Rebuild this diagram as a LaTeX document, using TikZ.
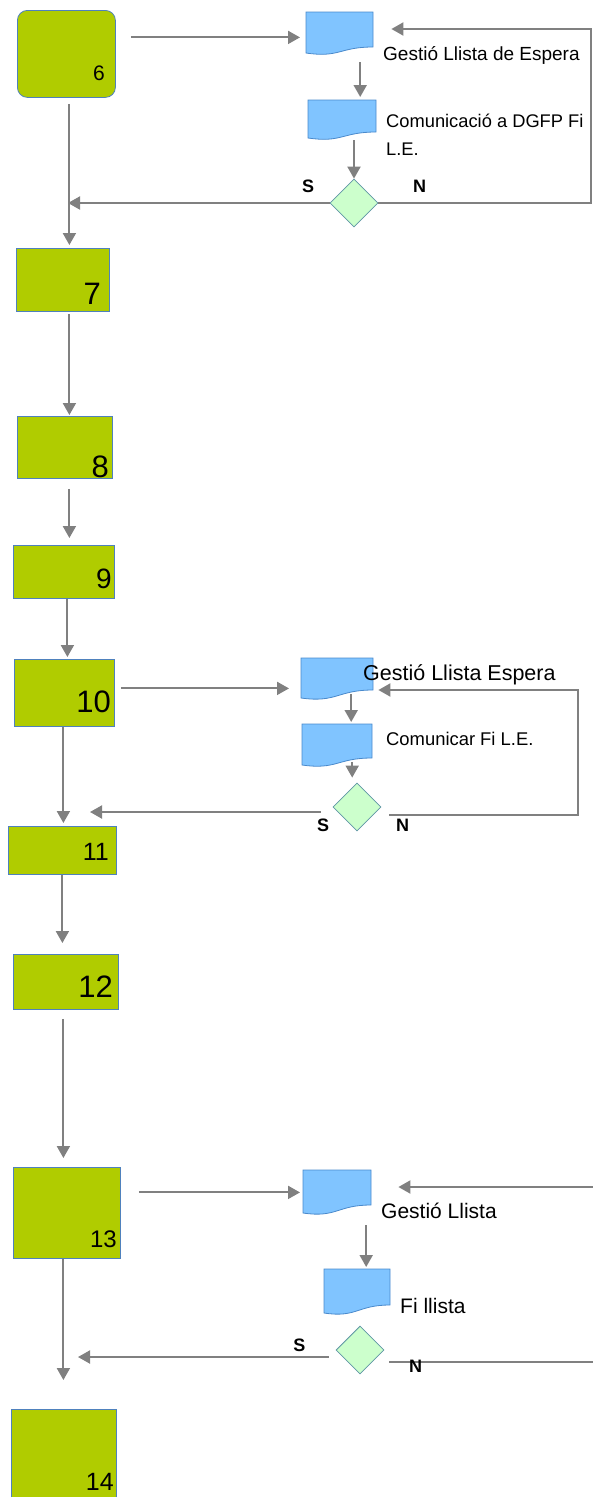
\documentclass[tikz,border=0pt]{standalone}
\usepackage{fontspec}
\setmainfont{Liberation Sans}
\usepackage{tikz}
\usetikzlibrary{arrows.meta,shapes.geometric}

\definecolor{boxgreen}{RGB}{176,204,0}
\definecolor{boxline}{RGB}{79,129,189}
\definecolor{docblue}{RGB}{128,196,255}
\definecolor{docline}{RGB}{74,138,204}
\definecolor{qgreen}{RGB}{204,255,204}
\definecolor{qline}{RGB}{95,150,165}
\definecolor{arrgray}{RGB}{128,128,128}

% name, x, y, width, left height, right height
\newcommand{\docshape}[6]{%
  \filldraw[doc] (#2,#3) -- ({#2+#4},#3) -- ({#2+#4},{#3+#6})
    .. controls ({#2+0.5*#4},{#3+#6}) and ({#2+0.5*#4},{#3+#5+5}) .. (#2,{#3+#5}) -- cycle;
  \node[inner sep=0, minimum width=#4pt, minimum height={(#5+#6)*0.5pt}, anchor=north west] (#1) at (#2,#3) {};
}

\begin{document}
\begin{tikzpicture}[x=1pt,y=-1pt,
    box/.style={draw=boxline, fill=boxgreen, line width=0.8pt, inner sep=0, anchor=north west},
    num/.style={anchor=base east, inner sep=0},
    doc/.style={draw=docline, fill=docblue, line width=0.8pt},
    choice/.style={diamond, draw=qline, fill=qgreen, line width=0.8pt, minimum width=48pt, minimum height=48pt, inner sep=0},
    txt/.style={anchor=base west, inner sep=0},
    sn/.style={inner sep=0, font=\fontsize{18}{18}\selectfont\bfseries},
    arr/.style={draw=arrgray, line width=2pt, -{Triangle[length=12pt,width=13pt]}},
    link/.style={draw=arrgray, line width=2pt}]
    \useasboundingbox (0,0) rectangle (593,1497);

    \node[box, rounded corners=10pt, minimum width=98pt, minimum height=87pt] (b6) at (17,10) {};
    \node[box, minimum width=93pt, minimum height=63pt] (b7) at (16,248) {};
    \node[box, minimum width=95pt, minimum height=62pt] (b8) at (17,416) {};
    \node[box, minimum width=101pt, minimum height=53pt] (b9) at (13,545) {};
    \node[box, minimum width=100pt, minimum height=67pt] (b10) at (14,659) {};
    \node[box, minimum width=108pt, minimum height=48pt] (b11) at (8,826) {};
    \node[box, minimum width=105pt, minimum height=55pt] (b12) at (13,954) {};
    \node[box, minimum width=107pt, minimum height=91pt] (b13) at (13,1167) {};
    \node[box, minimum width=105pt, minimum height=100pt] (b14) at (11,1409) {};

    \node[num, font=\fontsize{21}{21}\selectfont] (n6) at (105,80) {6};
    \node[num, font=\fontsize{31}{31}\selectfont] (n7) at (101,304) {7};
    \node[num, font=\fontsize{31}{31}\selectfont] (n8) at (109,477) {8};
    \node[num, font=\fontsize{28}{28}\selectfont] (n9) at (112,588) {9};
    \node[num, font=\fontsize{31}{31}\selectfont] (n10) at (111,712) {10};
    \node[num, font=\fontsize{25}{25}\selectfont] (n11) at (109,860) {11};
    \node[num, font=\fontsize{31}{31}\selectfont] (n12) at (113,997) {12};
    \node[num, font=\fontsize{24}{24}\selectfont] (n13) at (117,1247) {13};
    \node[num, font=\fontsize{25}{25}\selectfont] (n14) at (114,1490) {14};

    \docshape{d1}{306}{12}{67}{41}{35}
    \docshape{d2}{308}{100}{68}{38}{32}
    \docshape{d3}{301}{658}{72}{40}{32}
    \docshape{d4}{302}{724}{70}{41}{34}
    \docshape{d5}{303}{1170}{68}{43}{35}
    \docshape{d6}{324}{1269}{66}{44}{36}

    \node[choice] (q1) at (354,203) {};
    \node[choice] (q2) at (357,807) {};
    \node[choice] (q3) at (360,1350) {};

    \node[txt, font=\fontsize{19}{19}\selectfont] (t1) at (383,60) {Gestió Llista de Espera};
    \node[txt, font=\fontsize{18.3}{28}\selectfont] (t2) at (386,127) {\begin{tabular}[t]{@{}l@{}}Comunicació a DGFP Fi\\L.E.\end{tabular}};
    \node[txt, font=\fontsize{21.5}{21.5}\selectfont] (t3) at (363,680) {Gestió Llista Espera};
    \node[txt, font=\fontsize{18.4}{18.4}\selectfont] (t4) at (386,745) {Comunicar Fi L.E.};
    \node[txt, font=\fontsize{21}{21}\selectfont] (t5) at (381,1218) {Gestió Llista};
    \node[txt, font=\fontsize{21}{21}\selectfont] (t6) at (400,1313) {Fi llista};

    \coordinate (o6) at ([yshift=16.5pt]b6.east);
    \draw[arr, shorten <=15pt, shorten >=6pt] (o6) -- (o6 -| d1.west);
    \coordinate (o1) at ([xshift=20.5pt]d1.south);
    \draw[arr, shorten <=12pt, shorten >=3pt] (o1) -- (o1 |- d2.north);
    \draw[arr, shorten <=5pt] (q1.north |- d2.south) -- (q1.north);
    \coordinate (j1) at (68,203);
    \draw[arr] (q1.west) -- (j1);
    \coordinate (r1) at (591,29);
    \draw[arr, shorten >=18pt] (q1.east) -| (r1) -- (r1 -| d1.east);

    \coordinate (c6) at ([xshift=3pt]b6.south);
    \draw[arr, shorten <=6pt, shorten >=3pt] (c6) -- (c6 |- b7.north);
    \coordinate (c7) at ([xshift=6.5pt]b7.south);
    \draw[arr, shorten <=2pt, shorten >=1pt] (c7) -- (c7 |- b8.north);
    \coordinate (c8) at ([xshift=4.5pt]b8.south);
    \draw[arr, shorten <=10pt, shorten >=7pt] (c8) -- (c8 |- b9.north);
    \coordinate (c9) at ([xshift=3.5pt]b9.south);
    \draw[arr, shorten >=2pt] (c9) -- (c9 |- b10.north);
    \coordinate (c10) at ([xshift=-1pt]b10.south);
    \draw[arr, shorten >=3pt] (c10) -- (c10 |- b11.north);
    \coordinate (c11) at (b11.south);
    \draw[arr, shorten >=11pt] (c11) -- (c11 |- b12.north);
    \coordinate (c12) at ([xshift=-2.5pt]b12.south);
    \draw[arr, shorten <=9pt, shorten >=9pt] (c12) -- (c12 |- b13.north);
    \coordinate (c13) at ([xshift=-3.5pt]b13.south);
    \draw[arr, shorten >=29pt] (c13) -- (c13 |- b14.north);

    \coordinate (o10) at ([yshift=4.5pt]b10.east);
    \draw[arr, shorten <=6pt, shorten >=12pt] (o10) -- (o10 -| d3.west);
    \coordinate (o3) at ([xshift=14pt]d3.south);
    \draw[arr, shorten >=2pt] (o3) -- (o3 |- d4.north);
    \coordinate (o4) at ([xshift=15pt]d4.south);
    \draw[arr, shorten >=5pt] (o4) -- (o4 |- q2.north);
    \coordinate (e2) at ([yshift=-5pt]q2.west);
    \coordinate (j2) at (90,812);
    \draw[arr, shorten <=12pt] (e2) -- (j2);
    \coordinate (f2) at ([xshift=8pt,yshift=-8pt]q2.east);
    \coordinate (r2) at (578,690);
    \draw[arr, shorten >=5pt] (f2) -| (r2) -- (r2 -| d3.east);

    \coordinate (o13) at ([yshift=20.5pt]b13.east);
    \draw[arr, shorten <=18pt, shorten >=3pt] (o13) -- (o13 -| d5.west);
    \coordinate (o5) at ([xshift=29pt]d5.south);
    \draw[arr, shorten <=16pt, shorten >=2pt] (o5) -- (o5 |- d6.north);
    \coordinate (e3) at ([yshift=-7pt]q3.west);
    \coordinate (j3) at (78,1357);
    \draw[arr, shorten <=7pt] (e3) -- (j3);
    \coordinate (f3) at ([xshift=5pt,yshift=-12pt]q3.east);
    \coordinate (r3) at (593,1362);
    \draw[link] (f3) -- (r3);
    \coordinate (r4) at (593,1187);
    \draw[arr, shorten >=27pt] (r4) -- (r4 -| d5.east);

    \node[sn] (ys1) at (308,186.5) {S};
    \node[sn] (no1) at (419.5,186.5) {N};
    \node[sn] (ys2) at (323,825) {S};
    \node[sn] (no2) at (402.5,825) {N};
    \node[sn] (ys3) at (299.5,1345) {S};
    \node[sn] (no3) at (415.5,1366.5) {N};
\end{tikzpicture}
\end{document}
